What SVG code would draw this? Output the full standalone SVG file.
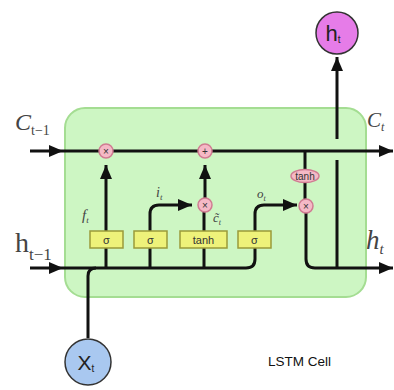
<svg xmlns="http://www.w3.org/2000/svg" width="394" height="390" viewBox="0 0 394 390">
<style>
.ln{fill:none;stroke:#111;stroke-width:3;stroke-linecap:butt}
.op{fill:#f5b9c6;stroke:#d07c92;stroke-width:1.5}
.gate{fill:#eef27a;stroke:#9a9a3a;stroke-width:1.5}
.gt{font-family:"Liberation Sans",Arial,sans-serif;font-size:11px;fill:#333;text-anchor:middle}
.opt{font-family:"Liberation Sans",Arial,sans-serif;font-size:10px;fill:#333;text-anchor:middle}
.lab{font-family:"Liberation Serif","Times New Roman",serif;font-style:italic;fill:#444}
.up{font-style:normal}
</style>
<defs>
<marker id="ah" markerUnits="userSpaceOnUse" markerWidth="14" markerHeight="12" refX="14" refY="6" orient="auto">
<path d="M0,0 L14,6 L0,12 z" fill="#111"/>
</marker>
</defs>
<rect id="cell" x="65" y="108" width="301" height="189" rx="20" fill="#cdf6c3" stroke="#a4dd92" stroke-width="2"/>
<g id="connectors">
<path class="ln" d="M30,151 H63" marker-end="url(#ah)"/>
<path class="ln" d="M63,151 H393" marker-end="url(#ah)"/>
<path class="ln" d="M30,268 H63" marker-end="url(#ah)"/>
<path class="ln" d="M63,268 H246 Q255,268 255,259 V240"/>
<path class="ln" d="M88,338 V276 Q88,268 96,268"/>
<path class="ln" d="M106,268 V240"/>
<path class="ln" d="M106,240 V165" marker-end="url(#ah)"/>
<path class="ln" d="M150,268 V214 Q150,205 159,205 H192" marker-end="url(#ah)"/>
<path class="ln" d="M204,268 V212"/>
<path class="ln" d="M205,198 V165" marker-end="url(#ah)"/>
<path class="ln" d="M255,240 V214 Q255,205 264,205 H297" marker-end="url(#ah)"/>
<path class="ln" d="M305,151 V206"/>
<path class="ln" d="M306,206 V259 Q306,268 315,268 H393" marker-end="url(#ah)"/>
<path class="ln" d="M337,160 V268"/>
<path class="ln" d="M337,139 V57" marker-end="url(#ah)"/>
</g>
<g id="mul_f"><circle class="op" cx="106" cy="151" r="7"/><text class="opt" x="106" y="154.5">×</text></g>
<g id="add_c"><circle class="op" cx="205" cy="151" r="7"/><text class="opt" x="205" y="154.5">+</text></g>
<g id="mul_i"><circle class="op" cx="205" cy="205" r="7"/><text class="opt" x="205" y="208.5">×</text></g>
<g id="tanh_c"><ellipse class="op" cx="305" cy="176" rx="14" ry="6.5"/><text class="opt" x="305" y="179.5">tanh</text></g>
<g id="mul_o"><circle class="op" cx="306" cy="206" r="7"/><text class="opt" x="306" y="209.5">×</text></g>
<g id="gate_f"><rect class="gate" x="90" y="231" width="33" height="17"/><text class="gt" x="106.5" y="243.5">σ</text></g>
<g id="gate_i"><rect class="gate" x="134" y="231" width="33" height="17"/><text class="gt" x="150.5" y="243.5">σ</text></g>
<g id="gate_c"><rect class="gate" x="180" y="231" width="47" height="17"/><text class="gt" x="203.5" y="243.5">tanh</text></g>
<g id="gate_o"><rect class="gate" x="238" y="231" width="33" height="17"/><text class="gt" x="254.5" y="243.5">σ</text></g>
<g id="h_out"><circle cx="337" cy="33" r="21" fill="#e67ce8" stroke="#333" stroke-width="1.5"/><text x="333" y="41" font-family="Liberation Sans,Arial,sans-serif" font-size="22" fill="#222" text-anchor="middle">h<tspan font-size="10" dy="2">t</tspan></text></g>
<g id="x_in"><circle cx="88" cy="362" r="23" fill="#a9c8f0" stroke="#333" stroke-width="1.5"/><text x="86" y="370" font-family="Liberation Sans,Arial,sans-serif" font-size="21" fill="#222" text-anchor="middle">X<tspan font-size="10" dy="2">t</tspan></text></g>
<g id="labels">
<text class="lab" x="15" y="130" font-size="24">C<tspan class="up" font-size="14" dy="5">t−1</tspan></text>
<text class="lab" x="367" y="127" font-size="21">C<tspan font-size="12" dy="4">t</tspan></text>
<text class="lab up" x="15" y="252" font-size="28">h<tspan font-size="17" dy="8">t−1</tspan></text>
<text class="lab" x="366" y="249" font-size="27">h<tspan font-size="15" dy="5">t</tspan></text>
<text class="lab" x="82" y="220" font-size="15">f<tspan font-size="9" dy="3">t</tspan></text>
<text class="lab" x="156" y="197" font-size="14">i<tspan font-size="9" dy="3">t</tspan></text>
<text class="lab" x="213" y="222" font-size="13">c̃<tspan font-size="8" dy="3">t</tspan></text>
<text class="lab" x="257" y="198" font-size="13">o<tspan font-size="8" dy="3">t</tspan></text>
<text x="268" y="366" font-family="Liberation Sans,Arial,sans-serif" font-size="13.5" fill="#111">LSTM Cell</text>
</g>
</svg>
